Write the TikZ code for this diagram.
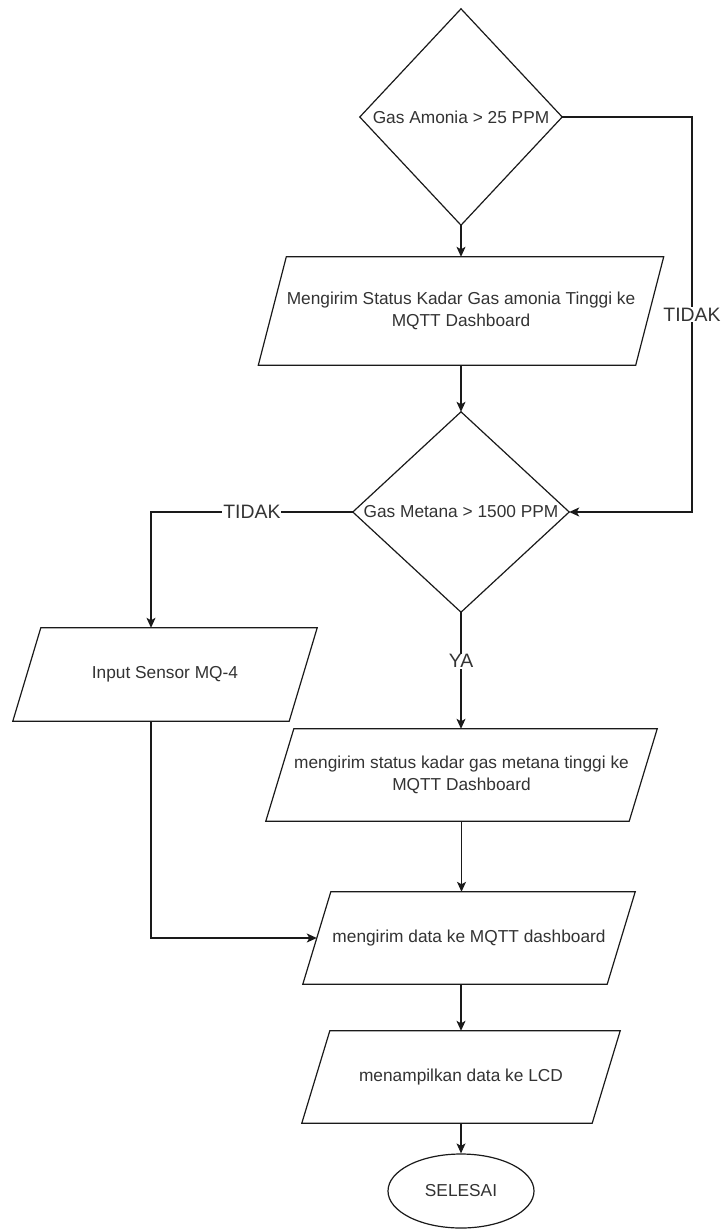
\documentclass[tikz,border=0pt]{standalone}
\usepackage{fontspec}
\setmainfont{Liberation Sans}
\usetikzlibrary{shapes.geometric,arrows.meta,calc}
\definecolor{txtcol}{HTML}{333333}
\definecolor{linecol}{HTML}{1A1A1A}
\newcommand\drawpar[1]{\draw[shapeline] ([xshift=14pt]#1.north west) -- ([xshift=14pt]#1.north east) -- ([xshift=-14pt]#1.south east) -- ([xshift=-14pt]#1.south west) -- cycle;}
\newcommand\drawdia[1]{\draw[shapeline] (#1.north) -- (#1.east) -- (#1.south) -- (#1.west) -- cycle;}
\begin{document}
\begin{tikzpicture}[x=1pt,y=-1pt,
  shapeline/.style={draw=linecol,line width=1.2pt,line join=miter},
  boxtext/.style={inner sep=0pt,text=txtcol,align=center,font=\fontsize{17.3}{22}\selectfont},
  dia/.style={boxtext,rectangle},
  parbox/.style={boxtext,rectangle},
  term/.style={boxtext,ellipse,draw=linecol,line width=1.2pt,minimum width=146pt,minimum height=74pt},
  arr/.style={draw=linecol,line width=1.2pt,-{Stealth[length=10pt,width=9pt,inset=2.5pt]}},
  lbl/.style={fill=white,text=txtcol,inner sep=1pt,font=\fontsize{19.4}{22}\selectfont}]
\useasboundingbox[fill=white] (0,0) rectangle (725,1229);

% nodes
\node[dia,minimum width=202pt,minimum height=216pt] (d1) at (461,117) {Gas Amonia > 25 PPM};
\drawdia{d1}
\node[parbox,minimum width=377pt,minimum height=108pt] (p1) at (461,311) {Mengirim Status Kadar Gas amonia Tinggi ke\\MQTT Dashboard};
\drawpar{p1}
\node[dia,minimum width=216pt,minimum height=200pt] (d2) at (461,512) {Gas Metana > 1500 PPM};
\drawdia{d2}
\node[parbox,minimum width=276pt,minimum height=93pt] (in) at (165,674.5) {Input Sensor MQ-4};
\drawpar{in}
\node[parbox,minimum width=363pt,minimum height=92pt] (p3) at (461.5,775) {mengirim status kadar gas metana tinggi ke\\MQTT Dashboard};
\drawpar{p3}
\node[parbox,minimum width=304pt,minimum height=92pt] (p4) at (469,938) {mengirim data ke MQTT dashboard};
\drawpar{p4}
\node[parbox,minimum width=290pt,minimum height=92pt] (p5) at (461,1077) {menampilkan data ke LCD};
\drawpar{p5}
\node[term] (end) at (461,1191) {SELESAI};

% helper coordinates
\coordinate (r1) at (692,117);
\coordinate (r2) at (692,512);
\coordinate (lft) at (151,512);

% connectors
\draw[arr] (d1.south) -- (p1.north);
\draw[arr] (p1.south) -- (d2.north);
\draw[arr] (d1.east) -- (r1) -- node[lbl]{TIDAK} (r2) -- (d2.east);
\draw[arr] (d2.west) -- node[lbl,pos=0.5]{TIDAK} (lft) -- (lft |- in.north);
\draw[arr] (d2.south) -- node[lbl,pos=0.42]{YA} (d2.south |- p3.north);
\draw[arr] (lft |- in.south) -- (lft |- p4.west) -- (p4.west);
\draw[arr] (p3.south) -- (p3.south |- p4.north);
\draw[arr] (p5.north |- p4.south) -- (p5.north);
\draw[arr] (p5.south) -- (end.north);
\end{tikzpicture}
\end{document}
